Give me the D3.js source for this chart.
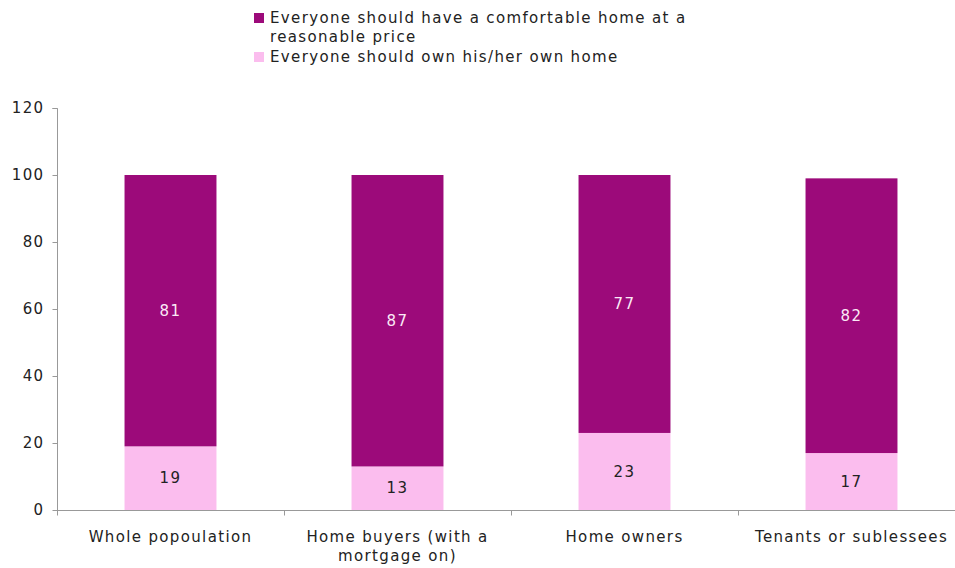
<!DOCTYPE html>
<html>
<head>
<meta charset="utf-8">
<script src="https://cdn.jsdelivr.net/npm/d3@7"></script>
<style>
  body { margin: 0; background: #fff; }
  text { font-family: "DejaVu Sans", Verdana, sans-serif; letter-spacing: 1.35px; }
</style>
</head>
<body>
<svg id="chart"></svg>
<script>
// data
var categories = ["Whole popoulation", "Home buyers (with a\nmortgage on)", "Home owners", "Tenants or sublessees"];
var ownHome = [19, 13, 23, 17];
var comfortableHome = [81, 87, 77, 82];
var seriesNames = ["Everyone should have a comfortable home at a\nreasonable price", "Everyone should own his/her own home"];
var yTicks = [0, 20, 40, 60, 80, 100, 120];

var svgWidth = 955, svgHeight = 568;
var purple = "#9c0a7a", pink = "#fbbdee";

var svg = d3.select("#chart")
  .attr("width", svgWidth)
  .attr("height", svgHeight);

var x = d3.scaleBand()
  .domain(categories)
  .range([57, 965])
  .paddingInner(0.595)
  .paddingOuter(0.2975);

var y = d3.scaleLinear()
  .domain([0, 120])
  .range([510, 108]);

// y axis
var yAxis = svg.append("g")
  .attr("transform", "translate(57.5,0)")
  .call(d3.axisLeft(y).tickValues(yTicks).tickSize(5).tickPadding(8));
yAxis.select(".domain").attr("stroke", "#999").attr("d", "M-5," + (y(120) + 0.5) + "H0V" + (y(0) + 0.5));
yAxis.selectAll(".tick line").attr("stroke", "#999");
yAxis.selectAll(".tick text").attr("fill", "#222").style("font-size", "15px");

// stacked bars
var stacked = categories.map(function (c, i) {
  return {cat: c, own: ownHome[i], comf: comfortableHome[i]};
});

var groups = svg.selectAll(".bar")
  .data(stacked)
  .enter()
  .append("g");

groups.append("rect")
  .attr("x", function (d) { return x(d.cat); })
  .attr("width", x.bandwidth())
  .attr("y", function (d) { return y(d.own); })
  .attr("height", function (d) { return y(0) - y(d.own); })
  .attr("fill", pink);

groups.append("rect")
  .attr("x", function (d) { return x(d.cat); })
  .attr("width", x.bandwidth())
  .attr("y", function (d) { return y(d.own + d.comf); })
  .attr("height", function (d) { return y(d.own) - y(d.own + d.comf); })
  .attr("fill", purple);

groups.append("text")
  .attr("x", function (d) { return x(d.cat) + x.bandwidth() / 2; })
  .attr("y", function (d) { return y(d.own / 2); })
  .attr("dy", "0.35em")
  .attr("text-anchor", "middle")
  .attr("fill", "#222")
  .style("font-size", "15px")
  .text(function (d) { return d.own; });

groups.append("text")
  .attr("x", function (d) { return x(d.cat) + x.bandwidth() / 2; })
  .attr("y", function (d) { return y(d.own + d.comf / 2); })
  .attr("dy", "0.35em")
  .attr("text-anchor", "middle")
  .attr("fill", "#fbe9f6")
  .style("font-size", "15px")
  .text(function (d) { return d.comf; });

// x axis
var xAxisG = svg.append("g").attr("transform", "translate(0,510.5)");
xAxisG.append("line")
  .attr("x1", 57).attr("x2", 965)
  .attr("stroke", "#999");
var bandEdges = categories.map(function (c) { return x(c) - x.step() * x.paddingInner() / 2; });
bandEdges.push(965);
xAxisG.selectAll(".xtick")
  .data(bandEdges)
  .enter()
  .append("line")
  .attr("x1", function (d) { return Math.round(d) + 0.5; })
  .attr("x2", function (d) { return Math.round(d) + 0.5; })
  .attr("y1", 0).attr("y2", 5)
  .attr("stroke", "#999");

var xLabels = xAxisG.selectAll(".xlabel")
  .data(categories)
  .enter()
  .append("text")
  .attr("text-anchor", "middle")
  .attr("fill", "#222")
  .style("font-size", "15px")
  .attr("transform", function (d) { return "translate(" + (x(d) + x.bandwidth() / 2) + ",31)"; });
xLabels.selectAll("tspan")
  .data(function (d) { return d.split("\n"); })
  .enter()
  .append("tspan")
  .attr("x", 0)
  .attr("dy", function (d, i) { return i === 0 ? 0 : 19; })
  .text(function (d) { return d; });

// legend
var legend = svg.selectAll(".legend")
  .data(seriesNames)
  .enter()
  .append("g")
  .attr("transform", function (d, i) { return "translate(254," + (i === 0 ? 13 : 52) + ")"; });
legend.append("rect")
  .attr("width", 10).attr("height", 10)
  .attr("fill", function (d, i) { return i === 0 ? purple : pink; });
var legendText = legend.append("text")
  .attr("x", 16)
  .attr("y", 10)
  .attr("fill", "#222")
  .style("font-size", "15px");
legendText.selectAll("tspan")
  .data(function (d) { return d.split("\n"); })
  .enter()
  .append("tspan")
  .attr("x", 16)
  .attr("dy", function (d, i) { return i === 0 ? 0 : 19; })
  .text(function (d) { return d; });
</script>
</body>
</html>
